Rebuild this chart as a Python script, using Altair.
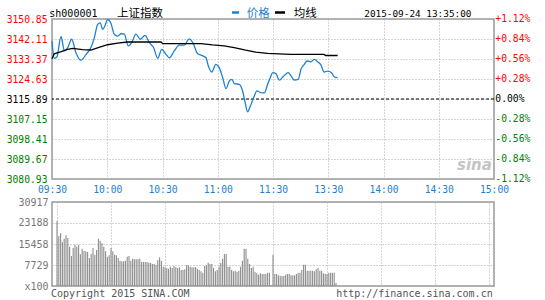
import altair as alt
import pandas as pd

# ---------------- data ----------------
prev_close = 3115.89
price_ticks = [3080.93, 3089.67, 3098.41, 3107.15, 3115.89, 3124.63, 3133.37, 3142.11, 3150.85]
pct_labels = ["-1.12%", "-0.84%", "-0.56%", "-0.28%", "0.00%", "+0.28%", "+0.56%", "+0.84%", "+1.12%"]
time_ticks = [0, 30, 60, 90, 120, 150, 180, 210, 240]
time_labels = ["09:30", "10:00", "10:30", "11:00", "11:30", "13:30", "14:00", "14:30", "15:00"]
vol_ticks = [0, 7729, 15458, 23188, 30917]
vol_tick_labels = ["x100", "7729", "15458", "23188", "30917"]

# minute index (0 = 09:30, 120 = 11:30/13:00, 240 = 15:00)
price_t = [0, 1.2, 2.6, 4.9, 6.7, 8.5, 10.7, 13, 15.7, 18.5, 21.2, 23, 24.8, 26.2, 27.5, 28.8,
           30.2, 32, 33.8, 35.7, 37.5, 39.3, 41.4, 43.3, 45.6, 47.9, 50.5, 52.8, 55.2, 57.4,
           59.6, 61.9, 63.7, 66.4, 69.1, 71.8, 74.5, 76.4, 79.1, 80.9, 83.6, 84.9, 86.7, 89,
           90.8, 92.7, 94.5, 96.3, 97.7, 99, 101.7, 103.5, 104.9, 106.2, 107.7, 109.5, 111.3,
           113.3, 115.3, 117.1, 118.5, 119.8, 121.6, 123.4, 125.8, 128.3, 129.8, 131.5, 133.7,
           135.2, 137, 138.4, 140.6, 142.4, 144.2, 146, 147.8, 149.7, 151.8, 153.3, 155.1]
price_v = [3141.2, 3133.7, 3134.2, 3143.2, 3136.9, 3138.3, 3142.0, 3136.1, 3132.8, 3135.4,
           3138.5, 3142.7, 3148.5, 3149.2, 3146.3, 3148.0, 3150.7, 3149.0, 3144.2, 3143.4,
           3144.4, 3144.2, 3139.1, 3140.6, 3144.2, 3142.0, 3143.7, 3140.6, 3138.3, 3133.7,
           3137.6, 3135.4, 3133.9, 3136.9, 3139.4, 3139.4, 3142.2, 3140.6, 3135.7, 3135.1,
           3133.9, 3130.3, 3127.7, 3131.0, 3129.6, 3125.2, 3120.4, 3123.8, 3124.5, 3122.6,
           3122.3, 3119.4, 3114.3, 3110.3, 3112.8, 3116.5, 3119.4, 3118.7, 3118.6, 3122.3,
           3125.2, 3127.4, 3127.0, 3124.1, 3125.9, 3127.4, 3126.0, 3124.2, 3124.5, 3128.9,
           3131.0, 3132.5, 3132.1, 3133.2, 3132.2, 3130.8, 3127.7, 3128.1, 3127.4, 3125.5, 3125.2]

avg_t = [0, 1.2, 5, 8.5, 11.2, 16.6, 21.1, 25.5, 30.2, 35.6, 41, 59.2, 60.1, 80.9, 87.2,
         93.5, 98.9, 105.2, 110.6, 117, 129.6, 147.7, 148.6, 155.1]
avg_v = [3133.5, 3135.6, 3136.6, 3137.6, 3138.0, 3137.5, 3137.3, 3138.4, 3139.6, 3140.3,
         3140.8, 3140.8, 3140.1, 3140.1, 3139.5, 3139.1, 3138.3, 3137.2, 3136.4, 3135.8,
         3135.4, 3135.4, 3134.9, 3134.9]

# volume per minute (units of 100), index = minute
volume = [23900, 18400, 19400, 16200, 17400, 18650, 17660, 14470, 11040, 13980,
          15200, 14470, 15200, 11660, 13740, 13000, 12800, 12500, 10300, 11780,
          13980, 11530, 13250, 17400, 16650, 15690, 14470, 12760, 10790, 11290,
          13980, 12760, 11530, 11290, 10300, 9320, 9070, 9070, 9320, 10790,
          11040, 9320, 10060, 9810, 9810, 9810, 10060, 8830, 8830, 8830,
          8830, 8580, 8580, 8090, 8090, 7840, 9560, 10540, 9320, 7100,
          6860, 6620, 6370, 7100, 6620, 7350, 6860, 6620, 6860, 5880,
          5880, 6130, 7600, 7600, 7100, 6860, 6860, 6860, 6370, 5880,
          5400, 4900, 7350, 7600, 8580, 8090, 8090, 6620, 5390, 5880,
          7100, 8500, 10060, 11780, 11780, 7100, 7100, 5880, 5390, 5640,
          5150, 5640, 7100, 9320, 13740, 13740, 10060, 8090, 6620, 7100,
          5150, 4660, 4170, 4660, 4410, 4410, 4410, 4900, 4900, 300,
          11530, 4410, 4410, 4000, 3680, 3680, 3680, 4170, 4410, 4410,
          3930, 3930, 3930, 4410, 4900, 4900, 5880, 7840, 7840, 5640,
          5640, 5640, 5640, 5390, 6130, 6620, 5640, 5640, 4660, 4410,
          4410, 4900, 4900, 4900, 4900, 1100]

# ---------------- style ----------------
MONO = "DejaVu Sans Mono"
CJK = "Noto Sans CJK SC"
RED = "#ff0000"
GREEN = "#008000"
BLUE = "#1e80d0"
GRID = "#aaaaaa"
FRAME = "#999999"
W, H1, H2 = 442, 160, 84

price_df = pd.DataFrame({"t": price_t, "p": price_v})
avg_df = pd.DataFrame({"t": avg_t, "p": avg_v})
right_df = pd.DataFrame({"p": price_ticks, "lab": pct_labels})
vol_df = pd.DataFrame({"t": list(range(len(volume))), "v": volume})
one = pd.DataFrame({"a": [0]})

x_scale = alt.Scale(domain=[time_ticks[0], time_ticks[-1]], nice=False, zero=False)
y_scale = alt.Scale(domain=[price_ticks[0], price_ticks[-1]], nice=False, zero=False)
v_scale = alt.Scale(domain=[vol_ticks[0], vol_ticks[-1]], nice=False)


def js_list(vals):
    return "[" + ",".join(repr(v) for v in vals) + "]"


price_color = {
    "condition": [
        {"test": f"datum.value > {prev_close + 0.005}", "value": RED},
        {"test": f"datum.value < {prev_close - 0.005}", "value": GREEN},
    ],
    "value": "#000000",
}

price_y_axis = alt.Axis(values=price_ticks, format=".2f", labelFont=MONO, labelFontSize=9.7,
                        labelColor=price_color, ticks=False, domain=False, labelPadding=5,
                        grid=True, gridColor=GRID, gridDash=[1, 2], title=None)
price_x_axis = alt.Axis(values=time_ticks,
                        labelExpr=f"{js_list(time_labels)}[indexof({js_list(time_ticks)}, datum.value)]",
                        labelFont=MONO, labelFontSize=9.7, labelColor=BLUE, ticks=False,
                        domain=False, labelPadding=5, labelFlush=False, grid=True,
                        gridColor=GRID, gridDash=[1, 2], title=None)
vol_x_axis = alt.Axis(values=time_ticks, labels=False, ticks=False, domain=False, grid=True,
                      gridColor=GRID, gridDash=[1, 2], title=None)
vol_y_axis = alt.Axis(values=vol_ticks,
                      labelExpr=f"{js_list(vol_tick_labels)}[indexof({js_list(vol_ticks)}, datum.value)]",
                      labelFont=MONO, labelFontSize=10, labelColor="#777777", ticks=False,
                      domain=False, labelPadding=4, grid=True, gridColor=GRID, gridDash=[1, 2],
                      title=None)


def X():
    return alt.X("t:Q", scale=x_scale, axis=price_x_axis)


def Y():
    return alt.Y("p:Q", scale=y_scale, axis=price_y_axis)


def txt(s, x, y, color, font=MONO, size=10, align="left", baseline="alphabetic", **kw):
    return alt.Chart(pd.DataFrame({"s": [s]})).mark_text(
        align=align, baseline=baseline, font=font, fontSize=size, color=color, **kw
    ).encode(x=alt.value(x), y=alt.value(y), text="s:N")


def dash(x1, x2, y, color):
    return alt.Chart(one).mark_rule(color=color, strokeWidth=2.5).encode(
        x=alt.value(x1), x2=alt.value(x2), y=alt.value(y))


anchor = alt.Chart(one).mark_rule(opacity=0, strokeWidth=0).encode(
    x=alt.value(-51), x2=alt.value(-51), y=alt.value(-18), y2=alt.value(-18))

zero_line = alt.Chart(pd.DataFrame({"p": [prev_close]})).mark_rule(
    color="black", strokeDash=[3, 2], strokeWidth=1).encode(y=Y())
price_line = alt.Chart(price_df).mark_line(color=BLUE, strokeWidth=1.3, interpolate="monotone").encode(x=X(), y=Y())
avg_line = alt.Chart(avg_df).mark_line(color="black", strokeWidth=1.3).encode(x=X(), y=Y())
right_labels = alt.Chart(right_df).mark_text(align="left", baseline="middle", font=MONO, fontSize=9.7).encode(
    y=Y(), x=alt.value(W + 1.3), text="lab:N",
    color=alt.when(alt.datum.p > prev_close + 0.005).then(alt.value(RED))
    .when(alt.datum.p < prev_close - 0.005).then(alt.value(GREEN))
    .otherwise(alt.value("#000000")))

logo = txt("sina", 405, 151, "#c4c4c4", font="DejaVu Sans", size=15, fontStyle="italic", fontWeight="bold")

price_panel = alt.layer(
    anchor, zero_line, price_line, avg_line, right_labels,
    txt("sh000001", -2.7, -2.5, "#000000"),
    txt("上证指数", 65, -2.5, "#000000", font=CJK, size=11.5),
    dash(180, 187, -6.5, BLUE),
    txt("价格", 194.7, -2.5, BLUE, font=CJK, size=11.5),
    dash(223, 233, -6.5, "#000000"),
    txt("均线", 241.7, -2.5, "#000000", font=CJK, size=11.5),
    txt("2015-09-24 13:35:00", 419.5, -2.5, "#000000", size=9.4, align="right"),
    logo,
).properties(width=W, height=H1)

bars = alt.Chart(vol_df).mark_bar(color="#8c8c8c", size=1.1).encode(
    x=alt.X("t:Q", scale=x_scale, axis=vol_x_axis),
    y=alt.Y("v:Q", scale=v_scale, axis=vol_y_axis))

vol_panel = alt.layer(
    bars,
    txt("Copyright 2015 SINA.COM", -1, 95, "#555555"),
    txt("http://finance.sina.com.cn", W - 1.3, 95, "#555555", align="right"),
).properties(width=W, height=H2)

chart = alt.vconcat(price_panel, vol_panel, spacing=23, bounds="flush").properties(
    padding=0, background="white"
).configure_view(stroke=FRAME, strokeWidth=1.5)

chart.save("out.html", embed_options={"renderer": "svg", "actions": False})
